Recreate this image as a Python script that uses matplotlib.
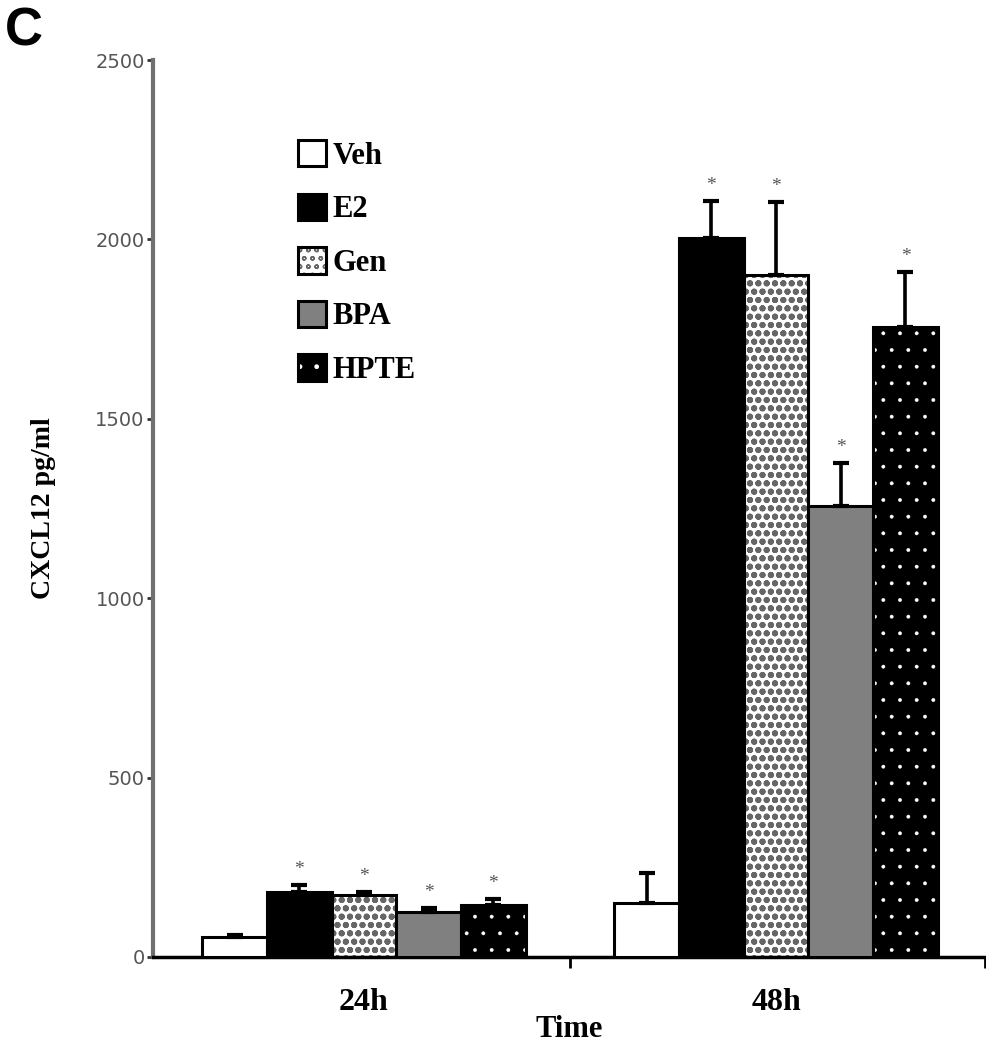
import matplotlib
matplotlib.use("Agg")
import matplotlib.pyplot as plt
import numpy as np
from matplotlib.legend_handler import HandlerTuple

# ---- data ----
groups = ["24h", "48h"]
treatments = ["Veh", "E2", "Gen", "BPA", "HPTE"]
means_24h = [55, 182, 173, 126, 145]
err_24h = [6, 18, 8, 11, 17]
means_48h = [151, 2004, 1901, 1257, 1756]
err_48h = [83, 103, 203, 120, 153]
sig_24h = [False, True, True, True, True]
sig_48h = [False, True, True, True, True]
yticks = [0, 500, 1000, 1500, 2000, 2500]

# ---- styles ----
face = ["white", "black", "white", "#808080", "black"]
hatch = [None, None, "oo", None, "."]
hatch_col = [None, None, "#666666", None, "white"]
hatch_lw = [None, None, 2.0, None, 0.3]

W, H = 987, 1050
fig = plt.figure(figsize=(W / 100, H / 100), dpi=100)
ax = fig.add_axes([153 / W, 1 - 957 / H, (985 - 153) / W, (957 - 60) / H])

serif = ["Liberation Serif", "DejaVu Serif"]

x = np.arange(len(groups))
width = 0.157
means = np.array([means_24h, means_48h])
errs = np.array([err_24h, err_48h])
sigs = np.array([sig_24h, sig_48h])

handles = []
for i, t in enumerate(treatments):
    pos = x + (i - 2) * width
    vals = means[:, i]
    if hatch[i]:
        with plt.rc_context({"hatch.linewidth": hatch_lw[i]}):
            under = ax.bar(pos, vals, width, color=face[i], edgecolor=hatch_col[i],
                           hatch=hatch[i], linewidth=0, zorder=2)
        for p in under:
            try:
                p.set_hatch_linewidth(hatch_lw[i])
            except AttributeError:
                pass
        outline = ax.bar(pos, vals, width, fill=False, edgecolor="black",
                         linewidth=2.2, zorder=3)
        handles.append((under[0], outline[0]))
    else:
        b = ax.bar(pos, vals, width, color=face[i], edgecolor="black",
                   linewidth=2.2, zorder=3)
        handles.append(b[0])
    ax.errorbar(pos, vals, yerr=[np.zeros_like(vals), errs[:, i]], fmt="none",
                ecolor="black", elinewidth=2.6, capsize=6, capthick=3, zorder=4)
    for p, v, e, s in zip(pos, vals, errs[:, i], sigs[:, i]):
        if s:
            ax.annotate("*", (p, v + e), xytext=(0, 5), textcoords="offset points",
                        ha="center", va="bottom", fontsize=14, color="#555555",
                        family=serif)

ax.set_ylim(0, 2500)
ax.set_xlim(-0.512, 1.507)
ax.set_yticks(yticks)
ax.set_yticklabels([str(v) for v in yticks], family=["DejaVu Sans"],
                   fontsize=14, color="#555555")
ax.tick_params(axis="y", direction="out", length=4, width=2, color="#333333", pad=2)

ax.set_xticks([0.5, 1.507])
ax.set_xticklabels(["", ""])
ax.tick_params(axis="x", which="major", direction="out", length=8, width=2, color="black")
ax.set_xticks(x, minor=True)
ax.set_xticklabels(groups, minor=True, family=serif, fontweight="bold", fontsize=23)
ax.tick_params(axis="x", which="minor", length=0, pad=22)

for s in ["top", "right"]:
    ax.spines[s].set_visible(False)
ax.spines["left"].set_color("#707070")
ax.spines["left"].set_linewidth(3)
ax.spines["bottom"].set_color("black")
ax.spines["bottom"].set_linewidth(2.5)

ax.set_ylabel("CXCL12 pg/ml", family=serif, fontweight="bold", fontsize=20, labelpad=28)
ax.set_xlabel("Time", family=serif, fontweight="bold", fontsize=22, labelpad=-1)

leg = ax.legend(handles, treatments, handler_map={tuple: HandlerTuple(ndivide=1)},
                loc="upper left", bbox_to_anchor=(145 / 832, 1 - 80 / 897),
                frameon=False, prop={"family": serif, "weight": "bold", "size": 22},
                handlelength=0.92, handleheight=0.95, handletextpad=0.2,
                labelspacing=0.75, borderpad=0, borderaxespad=0)

fig.text(5 / W, 1 - 45 / H, "C", family=["Liberation Sans", "DejaVu Sans"],
         fontweight="bold", fontsize=38, ha="left", va="baseline")

fig.savefig("out.png", dpi=100)
